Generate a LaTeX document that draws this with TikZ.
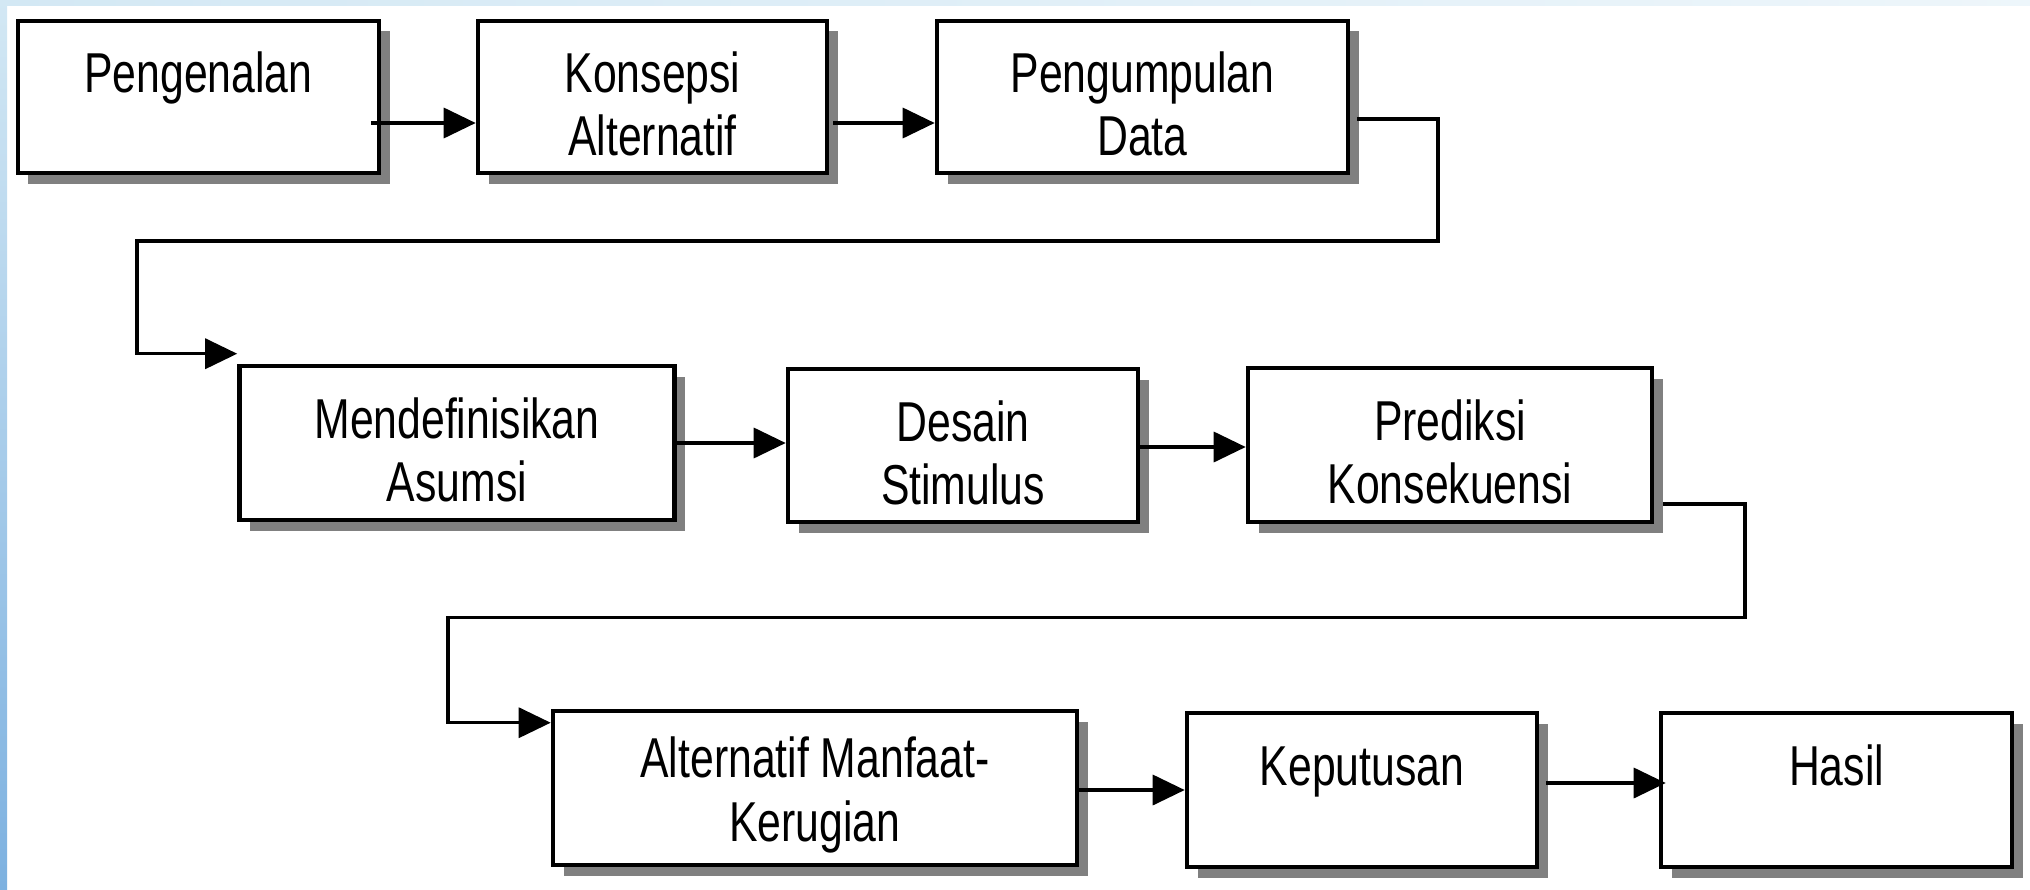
\documentclass[tikz,border=0pt]{standalone}
\usepackage{fontspec}
\setmainfont[FakeStretch=0.76]{Liberation Sans}
\usetikzlibrary{calc,arrows.meta,shadows}

\definecolor{tepiatas}{HTML}{D3E8F4}
\definecolor{tepibawah}{HTML}{7DB1E0}
\tikzset{
  kotak/.style={draw,line width=1.3pt,fill=white,align=center,inner sep=0pt,
    minimum height=1.52cm,font=\fontsize{16}{18}\selectfont,
    execute at begin node={\rule{0pt}{33.6pt}},
    drop shadow={shadow xshift=0.105cm,shadow yshift=-0.105cm,fill=black!50,opacity=1}},
  alur/.style={line width=1pt,-{Triangle[length=0.32cm,width=0.3cm]}}
}

\begin{document}
\begin{tikzpicture}
    \useasboundingbox (0,0) rectangle (20.30,-8.89);
    \shade[left color=tepiatas,right color=tepiatas!40] (0,0) rectangle (20.30,-0.06);
    \shade[top color=tepiatas,bottom color=tepibawah] (0,0) rectangle (0.07,-8.89);

    \begin{scope}
      \node[kotak,minimum width=3.61cm] (A) at (1.985,-0.97) {Pengenalan\\\mbox{}};
      \node[kotak,minimum width=3.49cm] (B) at (6.525,-0.97) {Konsepsi\\Alternatif};
      \node[kotak,minimum width=4.11cm] (C) at (11.425,-0.97) {Pengumpulan\\Data};
      \draw[alur] ([xshift=-0.1cm,yshift=-0.26cm]A.east) -- ([yshift=-0.26cm]B.west);
      \draw[alur] ([xshift=0.04cm,yshift=-0.26cm]B.east) -- ([yshift=-0.26cm]C.west);
    \end{scope}

    \begin{scope}
      \node[kotak,minimum width=4.35cm,minimum height=1.54cm] (D) at (4.57,-4.43) {Mendefinisikan\\Asumsi};
      \node[kotak,minimum width=3.50cm,minimum height=1.53cm] (E) at (9.63,-4.455) {Desain\\Stimulus};
      \node[kotak,minimum width=4.04cm,minimum height=1.54cm] (F) at (14.50,-4.45) {Prediksi\\Konsekuensi};
      \draw[alur] ([xshift=0.07cm,yshift=-0.22cm]C.east) -| (14.38,-2.41) -- (1.37,-2.41)
        |- ([yshift=0.1cm]D.north west);
      \draw[alur] (D.east) -- (D.east -| E.west);
      \draw[alur] ([yshift=-0.015cm]E.east) -- ([yshift=-0.015cm]E.east -| F.west);
    \end{scope}

    \begin{scope}
      \node[kotak,minimum width=5.24cm,minimum height=1.54cm] (G) at (8.15,-7.88) {Alternatif Manfaat-\\Kerugian};
      \node[kotak,minimum width=3.50cm,minimum height=1.54cm] (H) at (13.62,-7.90) {Keputusan\\\mbox{}};
      \node[kotak,minimum width=3.51cm,minimum height=1.54cm] (I) at (18.365,-7.90) {Hasil\\\mbox{}};
      \draw[alur] ([xshift=0.09cm,yshift=-0.59cm]F.east) -| (17.45,-6.175) -- (4.48,-6.175)
        |- ([yshift=-0.14cm]G.north west);
      \draw[alur] ([yshift=-0.02cm]G.east) -- ([yshift=-0.02cm]G.east -| H.west);
      \draw[alur] ([xshift=0.07cm,yshift=0.07cm]H.east) -- ([xshift=0.07cm,yshift=0.07cm]H.east -| I.west);
    \end{scope}
\end{tikzpicture}
\end{document}
